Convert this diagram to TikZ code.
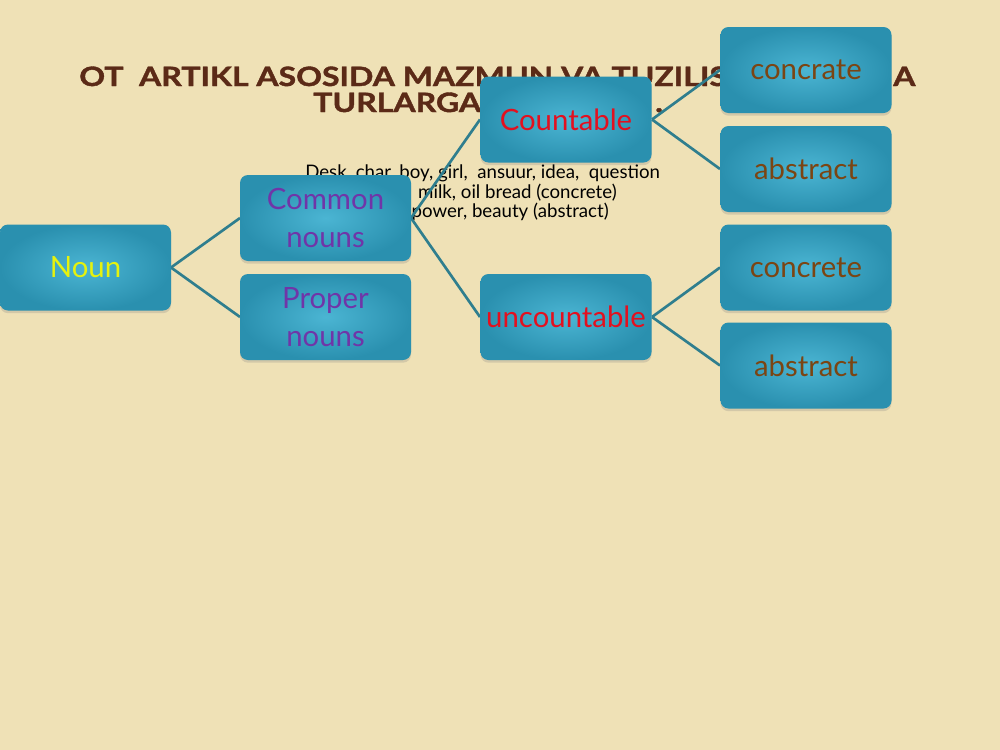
\documentclass[tikz,border=0pt]{standalone}
\usepackage{fontspec}
\setmainfont{Lato}
\newfontfamily\titlefont[FakeStretch=1.2,FakeBold=1.5]{Lato}
\usetikzlibrary{shadows}
\definecolor{bg}{HTML}{EFE1B6}
\definecolor{boxin}{HTML}{4BB5D3}
\definecolor{boxout}{HTML}{2A90AF}
\definecolor{linec}{HTML}{2F7E8E}
\definecolor{titlec}{HTML}{5B2A17}
\definecolor{nounc}{HTML}{E5F20E}
\definecolor{purplec}{HTML}{7035A8}
\definecolor{redc}{HTML}{E3101F}
\definecolor{brownc}{HTML}{7B4513}
\begin{document}
\begin{tikzpicture}[x=0.75pt,y=-0.75pt,
  box/.style={rounded corners=6pt, minimum width=128.25pt, minimum height=64.5pt,
    inner color=boxin, outer color=boxout, inner sep=2pt,
    drop shadow={opacity=0.25,shadow xshift=0pt,shadow yshift=-2pt},
    align=center, font=\fontsize{22}{28.5}\selectfont},
  link/.style={draw=linec, line width=2pt},
  titlestyle/.style={font=\titlefont\fontsize{20}{20}\selectfont\bfseries, text=titlec, inner sep=0pt},
  bodystyle/.style={font=\fontsize{14}{15}\selectfont, text=black, inner sep=0pt}]
\useasboundingbox (0,0) rectangle (1000,750);
\fill[bg] (0,0) rectangle (1000,750);
% title and body text (partly covered by boxes)
\node[titlestyle, anchor=base west] (title1) at (79,86) {OT\ \ ARTIKL ASOSIDA MAZMUN VA TUZILIS};
\node[titlestyle, anchor=base west] (title2) at (893,86) {A};
\node[titlestyle, anchor=base west] (title3) at (313,112) {TURLARGA};
\node[titlestyle, anchor=base west] (title4) at (655,112) {.};
\node[bodystyle, anchor=base west] (body1) at (305,178) {Desk, char, boy, girl,\ \ ansuur, idea,\ \ question};
\node[bodystyle, anchor=base east] (body2) at (617,198) {milk, oil bread (concrete)};
\node[bodystyle, anchor=base east] (body3) at (609,217) {power, beauty (abstract)};
% anchor coordinates for connectors
\coordinate (nounR) at (171,267.5);
\coordinate (comL) at (240,218);
\coordinate (comR) at (411,218);
\coordinate (proL) at (240,317);
\coordinate (couL) at (480,119.5);
\coordinate (couR) at (652,119.5);
\coordinate (uncL) at (480,317);
\coordinate (uncR) at (652,317);
\coordinate (c1L) at (720,70);
\coordinate (a1L) at (720,169);
\coordinate (c2L) at (720,267.5);
\coordinate (a2L) at (720,365.5);
\draw[link] (nounR) -- (comL);
\draw[link] (nounR) -- (proL);
\draw[link] (comR) -- (couL);
\draw[link] (comR) -- (uncL);
\draw[link] (couR) -- (c1L);
\draw[link] (couR) -- (a1L);
\draw[link] (uncR) -- (c2L);
\draw[link] (uncR) -- (a2L);
% boxes
\node[box, text=nounc] (noun) at (85.5,267.5) {Noun};
\node[box, text=purplec] (common) at (325.5,218) {Common\\nouns};
\node[box, text=purplec] (proper) at (325.5,317) {Proper\\nouns};
\node[box, text=redc] (countable) at (566,119.5) {Countable};
\node[box, text=redc] (uncountable) at (566,317) {uncountable};
\node[box, text=brownc] (concrate) at (806,70) {concrate};
\node[box, text=brownc] (abstract1) at (806,169) {abstract};
\node[box, text=brownc] (concrete) at (806,267.5) {concrete};
\node[box, text=brownc] (abstract2) at (806,365.5) {abstract};
\end{tikzpicture}
\end{document}
